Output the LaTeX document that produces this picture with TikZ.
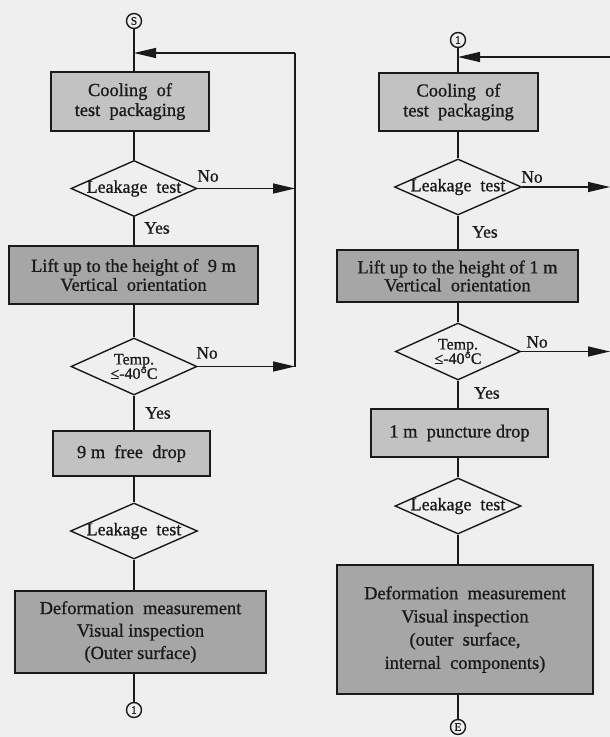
\documentclass[tikz,border=0pt]{standalone}
\usepackage{fontspec}
\setmainfont{Liberation Serif}[FakeBold=0.9]
\usetikzlibrary{shapes.geometric,arrows.meta}
\definecolor{ink}{HTML}{1A1A1A}
\definecolor{bg}{HTML}{EFEFEF}
\definecolor{lite}{HTML}{C2C2C2}
\definecolor{dark}{HTML}{A6A6A6}
\begin{document}
\begin{tikzpicture}[x=1bp,y=-1bp,
  txt/.style={font=\fontsize{18.5}{20}\selectfont, text=ink},
  procbox/.style={rectangle, draw=ink, line width=1.6bp, inner sep=0pt, align=center, txt},
  lightbox/.style={procbox, fill=lite},
  darkbox/.style={procbox, fill=dark},
  decision/.style={diamond, draw=ink, line width=1.4bp, inner sep=0pt},
  dtext/.style={font=\fontsize{18}{16}\selectfont, text=ink, align=center},
  ttext/.style={font=\fontsize{16}{14.5}\selectfont, text=ink, align=center},
  term/.style={circle, draw=ink, line width=1.4bp, minimum size=15bp, inner sep=0pt, font=\fontsize{11.5}{11.5}\selectfont, text=ink},
  conn/.style={draw=ink, line width=1.4bp},
  arr/.style={conn, -{Triangle[length=22bp,width=10bp]}},
  lab/.style={font=\fontsize{17.5}{17.5}\selectfont, text=ink, inner sep=0pt}
]
\fill[bg] (0,0) rectangle (610,737);
\useasboundingbox (0,0) rectangle (610,737);

% ---------------- left column ----------------
\node[term] (S) at (134,21) {S};
\node[lightbox, minimum width=158bp, minimum height=59bp] (b1L) at (130,101.5) {Cooling~~of\\test~~packaging};
\node[decision, minimum width=126bp, minimum height=56bp,
      label={[dtext]center:Leakage~~test}] (d1L) at (134,188.5) {};
\node[darkbox, minimum width=249bp, minimum height=58bp, font=\fontsize{18.5}{19}\selectfont] (b2L) at (133.5,275) {Lift up to the height of~~9 m\\Vertical~~orientation};
\node[decision, minimum width=126bp, minimum height=57bp,
      label={[ttext]center:Temp.\\≤-40°C}] (d2L) at (134,366.5) {};
\node[lightbox, minimum width=157bp, minimum height=45bp] (b3L) at (131.5,453.5) {9 m~~free~~drop};
\node[decision, minimum width=127bp, minimum height=56bp,
      label={[dtext]center:Leakage~~test}] (d3L) at (134,531) {};
\node[darkbox, minimum width=251bp, minimum height=82bp, font=\fontsize{18.5}{22.5}\selectfont] (b4L) at (140.5,632) {Deformation~~measurement\\Visual inspection\\(Outer surface)};
\node[term] (C1) at (134,710) {1};

\node[lab] (noL1) at (208,176) {No};
\node[lab] (yesL1) at (157,228) {Yes};
\node[lab] (noL2) at (207,353) {No};
\node[lab] (yesL2) at (158,413) {Yes};

\coordinate (jL) at (134,53);
\coordinate (tL) at (295,53);

\draw[conn] (S) -- (S |- b1L.north);
\draw[conn] (S |- b1L.south) -- (d1L);
\draw[conn] (d1L) -- (d1L |- b2L.north);
\draw[conn] (d1L |- b2L.south) -- (d2L);
\draw[conn] (d2L) -- (d2L |- b3L.north);
\draw[conn] (d2L |- b3L.south) -- (d3L);
\draw[conn] (d3L) -- (d3L |- b4L.north);
\draw[conn] (C1 |- b4L.south) -- (C1);

\draw[arr] (d1L.east) -- (d1L.east -| tL);
\draw[arr] (d2L.east) -- (d2L.east -| tL);
\draw[conn] (d2L.east -| tL) -- (tL);
\draw[arr] (tL) -- (jL);

% ---------------- right column ----------------
\node[term] (T1) at (458,40) {1};
\node[lightbox, minimum width=159bp, minimum height=58bp] (b1R) at (458.5,102) {Cooling~~of\\test~~packaging};
\node[decision, minimum width=127bp, minimum height=56bp,
      label={[dtext]center:Leakage~~test}] (d1R) at (458,187) {};
\node[darkbox, minimum width=241bp, minimum height=52bp, font=\fontsize{18.5}{18}\selectfont] (b2R) at (457.5,276) {Lift up to the height of 1 m\\Vertical~~orientation};
\node[decision, minimum width=125bp, minimum height=57bp,
      label={[ttext]center:Temp.\\≤-40°C}] (d2R) at (458,351.5) {};
\node[lightbox, minimum width=177bp, minimum height=48bp] (b3R) at (459.5,433) {1 m~~puncture drop};
\node[decision, minimum width=126bp, minimum height=56bp,
      label={[dtext]center:Leakage~~test}] (d3R) at (458,506) {};
\node[darkbox, minimum width=256bp, minimum height=129bp, font=\fontsize{18.5}{23.3}\selectfont] (b4R) at (465,629.5) {Deformation~~measurement\\Visual inspection\\(outer~~surface,\\internal~~components)};
\node[term] (E) at (458,727) {E};

\node[lab] (noR1) at (532,177) {No};
\node[lab] (yesR1) at (485,232) {Yes};
\node[lab] (noR2) at (537,342) {No};
\node[lab] (yesR2) at (487,393) {Yes};

\coordinate (jR) at (458,57);
\coordinate (eR) at (610,57);

\draw[conn] (T1) -- (T1 |- b1R.north);
\draw[conn] (T1 |- b1R.south) -- (d1R);
\draw[conn] (d1R) -- (d1R |- b2R.north);
\draw[conn] (d1R |- b2R.south) -- (d2R);
\draw[conn] (d2R) -- (d2R |- b3R.north);
\draw[conn] (d2R |- b3R.south) -- (d3R);
\draw[conn] (d3R) -- (d3R |- b4R.north);
\draw[conn] (E |- b4R.south) -- (E);

\draw[arr] (eR) -- (jR);
\draw[arr] (d1R.east) -- (d1R.east -| eR);
\draw[arr] (d2R.east) -- (d2R.east -| eR);
\end{tikzpicture}
\end{document}
